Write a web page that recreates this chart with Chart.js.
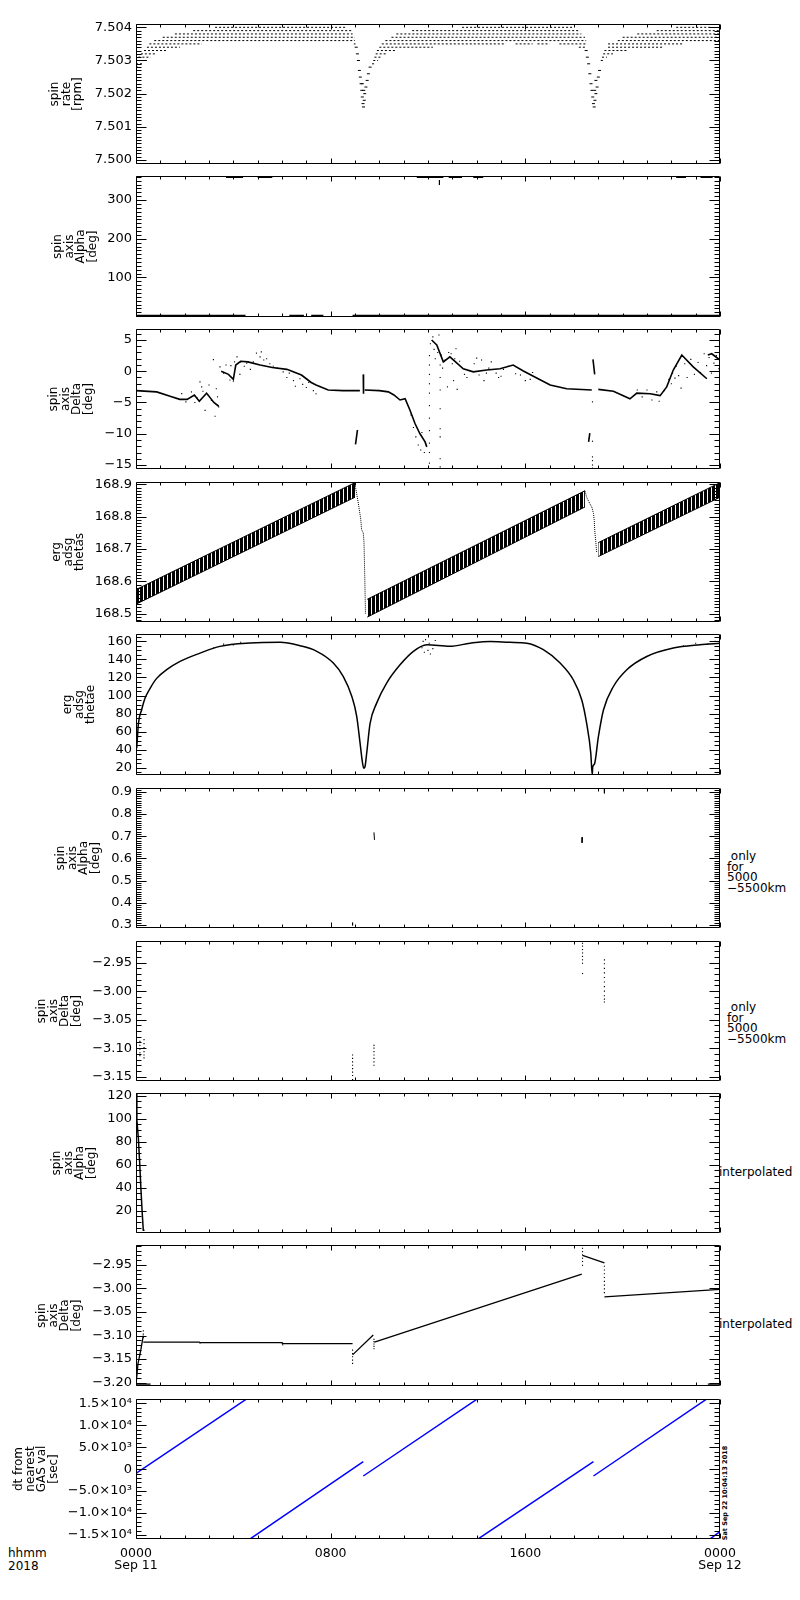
<!DOCTYPE html>
<html>
<head>
<meta charset="utf-8">
<script src="https://cdn.jsdelivr.net/npm/chart.js@4.4.0/dist/chart.umd.min.js"></script>
<style>
  body { margin: 0; background: #fff; width: 800px; height: 1600px; position: relative; overflow: hidden;
         font-family: "DejaVu Sans", "Liberation Sans", sans-serif; color: #000; }
  canvas { position: absolute; left: 0; }
  .note { position: absolute; font-size: 12px; line-height: 10.7px; white-space: pre; }
  .stamp { position: absolute; font-size: 6.5px; font-weight: bold; white-space: nowrap;
           transform: translate(-50%, -50%) rotate(-90deg); }
</style>
</head>
<body>
<div class="note" style="left:727px;top:851px"> only
for
5000
−5500km</div>
<div class="note" style="left:727px;top:1002px"> only
for
5000
−5500km</div>
<div class="note" style="left:719px;top:1166px;line-height:12px">interpolated</div>
<div class="note" style="left:719px;top:1318px;line-height:12px">interpolated</div>
<div class="note" style="left:8px;top:1547px;line-height:12.5px">hhmm
2018</div>
<div class="stamp" style="left:725px;top:1493px">Sat Sep 22 10:04:13 2018</div>

<script>
// time axis (hours from 0000 Sep 11)
const hourTicks = [0, 8, 16, 24];
const hourLabels = [['0000', 'Sep 11'], '0800', '1600', ['0000', 'Sep 12']];

// spin rate [rpm] : quantised levels drawn as [from h, to h, value]
const rateTicks = [7.500, 7.501, 7.502, 7.503, 7.504];
const rateTickLabels = ['7.500', '7.501', '7.502', '7.503', '7.504'];
const rateLevels = [
  [3.25, 8.65, 7.5040], [13.4, 18.0, 7.5040], [22.2, 23.6, 7.5040],
  [2.35, 8.9, 7.5039], [11.35, 18.25, 7.5039], [21.4, 24, 7.5039],
  [1.6, 8.9, 7.5038], [10.7, 18.3, 7.5038], [20.6, 24, 7.5038],
  [1.1, 9.0, 7.5037], [10.5, 18.45, 7.5037], [20.0, 24, 7.5037],
  [0.75, 9.0, 7.5036], [10.25, 18.5, 7.5036], [19.8, 24, 7.5036],
  [0.55, 2.7, 7.5035], [8.95, 9.02, 7.5035], [10.1, 15.2, 7.5035], [15.6, 16.3, 7.5035],
  [16.5, 17.0, 7.5035], [17.4, 18.5, 7.5035], [19.4, 22.5, 7.5035],
  [0.45, 1.8, 7.5034], [10.0, 12.2, 7.5034], [18.2, 18.5, 7.5034], [19.4, 21.7, 7.5034],
  [0.33, 1.27, 7.5033], [9.9, 10.7, 7.5033], [19.25, 20.2, 7.5033],
  [0.2, 0.85, 7.5032], [9.85, 10.3, 7.5032], [19.2, 19.6, 7.5032],
  [0.1, 0.6, 7.5031], [9.8, 10.1, 7.5031], [19.15, 19.35, 7.5031],
  [0.05, 0.45, 7.5030], [9.75, 9.95, 7.5030], [19.1, 19.25, 7.5030],
  [0, 0.3, 7.5029], [9.7, 9.85, 7.5029],
  [0, 0.15, 7.5028]
];
const rateDip = [
  [9.05, 7.5034], [9.1, 7.5032], [9.14, 7.5030], [9.18, 7.5027], [9.22, 7.5025], [9.25, 7.5023],
  [9.28, 7.5021], [9.3, 7.5019], [9.33, 7.5017], [9.35, 7.5016], [9.38, 7.5018], [9.4, 7.5020],
  [9.45, 7.5022], [9.5, 7.5024], [9.55, 7.5026], [9.62, 7.5028], [9.3, 7.5023], [9.36, 7.5021],
  [18.5, 7.5033], [18.55, 7.5031], [18.6, 7.5029], [18.65, 7.5026], [18.7, 7.5023], [18.74, 7.5021],
  [18.77, 7.5019], [18.8, 7.5017], [18.83, 7.5016], [18.86, 7.5018], [18.9, 7.5020], [18.95, 7.5022],
  [19.0, 7.5025], [19.05, 7.5027], [18.85, 7.5021], [18.9, 7.5024]
];

// spin axis Alpha [deg]
const alphaTicks = [100, 200, 300];
const alphaTickLabels = ['100', '200', '300'];
const alphaLow = [[0, 4.5, 1], [6.3, 6.9, 1], [7.2, 7.7, 1], [8.9, 24, 1]];
const alphaHigh = [[3.7, 4.4, 359.5], [5.0, 5.6, 359.5], [11.54, 12.63, 359.5], [12.85, 13.4, 359.5],
                   [13.86, 14.27, 359.5], [22.2, 22.6, 359.5], [23.2, 23.7, 359.5]];
const alphaDrip = [[12.47, 351.5], [12.47, 338.7]];

// spin axis Delta [deg]
const deltaTicks = [-15, -10, -5, 0, 5];
const deltaTickLabels = ['−15', '−10', '−5', '0', '5'];
const deltaPaths = [
  [[0, -3.1], [0.85, -3.3], [1.4, -4.0], [1.8, -4.5], [2.1, -4.5], [2.4, -3.8], [2.6, -4.8], [2.9, -3.5], [3.2, -5.0], [3.4, -5.6]],
  [[3.5, 0.0], [3.8, -0.5], [4.0, -1.3], [4.1, 1.0], [4.3, 1.6], [4.6, 1.5], [5.1, 1.0], [5.6, 0.6], [6.2, 0.3],
   [6.8, -0.6], [7.2, -1.8], [7.4, -2.2], [7.9, -3.0], [8.5, -3.1], [9.2, -3.1]],
  [[9.02, -11.7], [9.07, -10.3], [9.1, -9.4]],
  [[9.34, -0.5], [9.34, -2.2], [9.36, -3.6]],
  [[9.4, -3.0], [10.0, -3.1], [10.37, -3.3], [10.6, -3.8], [10.85, -4.6], [11.06, -4.4], [11.26, -6.25],
   [11.47, -8.4], [11.67, -10.0], [11.88, -11.3], [11.95, -12.1]],
  [[12.15, 5.0], [12.36, 4.2], [12.63, 1.5], [12.9, 2.3], [13.45, 0.4], [13.86, -0.1], [14.41, 0.2], [14.96, 0.4],
   [15.5, 1.0], [15.92, 0.05], [16.33, -0.8], [17.02, -2.2], [17.7, -2.8], [18.73, -3.0]],
  [[18.78, 1.9], [18.85, -0.5]],
  [[18.6, -11.3], [18.65, -9.9]],
  [[19.0, -2.9], [19.62, -3.2], [20.3, -4.4], [20.58, -3.5], [21.13, -3.6], [21.54, -3.9], [21.81, -2.5],
   [22.08, 0.2], [22.43, 2.6], [22.9, 0.7], [23.46, -1.2]],
  [[23.5, 2.6], [23.66, 2.8], [24, 1.8]]
];
const deltaScatter = [
  [1.88, -3.58], [2.05, -4.9], [2.28, -3.31], [2.42, -5.0], [2.5, -4.2], [2.63, -1.71], [2.7, -2.5], [2.75, -3.2],
  [2.84, -6.25], [2.97, -3.85], [3.1, -4.65], [3.18, 1.87], [3.25, -7.2], [3.35, -4.1], [3.4, -5.7], [3.3, -2.8], [3.0, -2.2],
  [3.45, 0.7], [3.6, -0.3], [3.7, 1.0], [3.86, -1.4], [3.9, 0.9], [4.0, -1.6], [4.05, 1.5], [4.15, 2.3], [4.27, -0.5],
  [4.3, 1.5], [4.45, 0.8], [4.55, 1.3], [4.7, 0.3], [4.82, 1.5], [4.95, 2.9], [5.1, 2.3], [5.15, 3.1], [5.25, 1.8],
  [5.37, 2.0], [5.5, 1.2], [5.64, 0.8], [5.8, 0.5], [6.05, -0.1], [6.2, -1.0], [6.3, -0.3], [6.47, -1.5], [6.55, -2.4],
  [6.74, -1.2], [6.85, -2.1], [7.0, -2.6], [7.1, -1.8], [7.29, -3.1], [7.4, -3.6],
  [11.3, -7.0], [11.4, -9.0], [11.5, -10.5], [11.6, -11.8], [11.7, -12.6], [11.75, -9.8], [11.85, -13.0],
  [12.06, -14.7], [12.06, -13.0], [12.06, -11.5], [12.06, -9.5], [12.06, -7.5], [12.06, -5.5], [12.06, -3.5],
  [12.06, -2.0], [12.06, -0.5], [12.06, 1.0], [12.06, 2.5],
  [12.5, -15.3], [12.5, -14.0], [12.5, -10.5], [12.5, -9.2], [12.5, -6.0], [12.5, -3.0], [12.5, -1.0], [12.5, 1.0],
  [12.1, 4.4], [12.2, 5.5], [12.25, 3.5], [12.3, 2.0], [12.4, 3.0], [12.45, 5.8], [12.55, 2.6], [12.6, 0.5],
  [12.7, 1.8], [12.8, -2.5], [12.85, 3.0], [12.95, 2.8], [13.0, 1.2], [13.05, -1.5], [13.1, 2.0], [13.15, 3.6],
  [13.2, -2.9], [13.3, 1.6], [13.5, -0.5], [13.6, -1.0],
  [13.9, 1.2], [14.0, 2.1], [14.1, -0.6], [14.2, 1.8], [14.3, -1.5], [14.4, -0.3], [14.5, 0.5], [14.6, 1.5],
  [14.8, -0.3], [14.9, -1.0], [15.0, -0.8], [15.1, 0.3], [15.3, 0.8], [15.6, -0.4], [15.8, -0.6], [16.0, -1.5],
  [16.2, -1.3], [16.3, -0.2],
  [18.76, -4.9], [18.76, -11.2], [18.76, -13.7], [18.76, -14.3], [18.76, -15.0], [18.76, -15.5],
  [20.6, -3.0], [20.8, -4.1], [21.0, -3.0], [21.2, -4.6], [21.4, -3.3], [21.5, -4.8], [21.7, -3.1], [21.9, -1.3],
  [22.0, -2.0], [22.05, -0.3], [22.15, -1.1], [22.2, 0.8], [22.3, -0.7], [22.4, -2.7], [22.55, 1.2], [22.65, -1.0],
  [22.8, 1.9], [22.95, -0.5], [23.1, 1.4], [23.2, -0.2], [23.35, 2.8], [23.45, 0.9], [23.55, 2.2], [23.65, -0.3],
  [23.75, 1.3], [23.85, 2.5], [23.95, 0.4]
];

// erg adsg thetas : band edges and drops
const thetasTicks = [168.5, 168.6, 168.7, 168.8, 168.9];
const thetasTickLabels = ['168.5', '168.6', '168.7', '168.8', '168.9'];
const thetasUpper1 = [[0, 168.575], [9.0, 168.905]];
const thetasLower1 = [[0, 168.53], [9.0, 168.86]];
const thetasUpper2 = [[9.5, 168.545], [18.45, 168.88]];
const thetasLower2 = [[9.5, 168.49], [18.45, 168.83]];
const thetasUpper3 = [[19.0, 168.72], [24, 168.905]];
const thetasLower3 = [[19.0, 168.677], [24, 168.86]];
const thetasDrops = [
  [[9.0, 168.90], [9.14, 168.84], [9.24, 168.79], [9.27, 168.76], [9.34, 168.75], [9.37, 168.72], [9.4, 168.62], [9.43, 168.5]],
  [[18.45, 168.88], [18.52, 168.86], [18.65, 168.84], [18.73, 168.83], [18.8, 168.81], [18.83, 168.79], [18.86, 168.75], [18.9, 168.72], [18.93, 168.69]]
];

// erg adsg thetae
const thetaeTicks = [20, 40, 60, 80, 100, 120, 140, 160];
const thetaeTickLabels = ['20', '40', '60', '80', '100', '120', '140', '160'];
const thetaeCurve = [
  [0.03, 41.5], [0.1, 69], [0.23, 84], [0.37, 97], [0.58, 108], [0.85, 119], [1.26, 128.6], [1.81, 137.8],
  [2.63, 147], [3.45, 154.5], [4.69, 158.2], [5.92, 159], [6.74, 155.2], [7.43, 149], [8.11, 136], [8.52, 121],
  [8.87, 99], [9.07, 77], [9.21, 47], [9.3, 27], [9.36, 19.5], [9.41, 21], [9.48, 36], [9.62, 69], [9.89, 91.6],
  [10.3, 113.8], [10.85, 134], [11.4, 149], [11.95, 156.3], [12.9, 154.5], [13.73, 158], [14.55, 160], [15.37, 159],
  [16.06, 158], [16.74, 150.8], [17.43, 136], [17.97, 117.5], [18.32, 95], [18.52, 69], [18.69, 36], [18.75, 12],
  [18.77, 21], [18.84, 24], [19.0, 54], [19.21, 84], [19.62, 110], [20.17, 128.6], [20.99, 143.3], [22.08, 152.6],
  [23.18, 156.3], [24, 158]
];
const thetaeScatter = [
  [3.2, 153], [3.6, 157], [4.0, 156], [4.3, 159], [11.75, 153], [11.8, 160], [11.85, 148], [11.9, 162], [12.0, 150],
  [12.05, 158], [12.1, 146], [12.2, 152], [12.3, 161], [22.5, 155], [23.0, 158], [23.5, 157], [23.8, 160], [24, 156]
];

// spin axis Alpha, only for 5000-5500 km
const alphaOnlyTicks = [0.3, 0.4, 0.5, 0.6, 0.7, 0.8, 0.9];
const alphaOnlyTickLabels = ['0.3', '0.4', '0.5', '0.6', '0.7', '0.8', '0.9'];
const alphaOnlyMarks = [
  [[8.9, 0.31], [8.9, 0.298]], [[9.78, 0.717], [9.8, 0.683]], [[18.35, 0.695], [18.33, 0.67]], [[19.25, 0.917], [19.25, 0.893]]
];

// spin axis Delta, only for 5000-5500 km
const deltaOnlyTicks = [-3.15, -3.10, -3.05, -3.00, -2.95];
const deltaOnlyTickLabels = ['−3.15', '−3.10', '−3.05', '−3.00', '−2.95'];
const deltaOnlyDots = [
  [0.16, -3.088], [0.16, -3.095], [0.16, -3.102], [0.16, -3.108], [0.16, -3.113],
  [0.33, -3.085], [0.33, -3.092], [0.33, -3.099], [0.33, -3.106], [0.33, -3.112], [0.33, -3.117],
  [8.9, -3.112], [8.9, -3.118], [8.9, -3.124], [8.9, -3.130], [8.9, -3.136], [8.9, -3.142], [8.9, -3.148], [8.9, -3.155],
  [9.78, -3.095], [9.78, -3.100], [9.78, -3.106], [9.78, -3.112], [9.78, -3.118], [9.78, -3.124], [9.78, -3.130],
  [18.35, -2.916], [18.35, -2.921], [18.35, -2.927], [18.35, -2.933], [18.35, -2.939], [18.35, -2.945], [18.35, -2.951], [18.35, -2.969],
  [19.25, -2.945], [19.25, -2.952], [19.25, -2.960], [19.25, -2.968], [19.25, -2.976], [19.25, -2.984], [19.25, -2.992],
  [19.25, -3.000], [19.25, -3.008], [19.25, -3.014], [19.25, -3.019]
];

// spin axis Alpha, interpolated
const alphaInterpTicks = [20, 40, 60, 80, 100, 120];
const alphaInterpTickLabels = ['20', '40', '60', '80', '100', '120'];
const alphaInterpCurve = [[0.02, 122], [0.03, 117], [0.04, 99], [0.1, 82], [0.15, 62], [0.2, 40], [0.25, 20], [0.3, 3], [0.35, 3]];

// spin axis Delta, interpolated
const deltaInterpTicks = [-3.20, -3.15, -3.10, -3.05, -3.00, -2.95];
const deltaInterpTickLabels = ['−3.20', '−3.15', '−3.10', '−3.05', '−3.00', '−2.95'];
const deltaInterpPaths = [
  [[0.0, -3.205], [0.08, -3.16], [0.2, -3.13], [0.3, -3.10]],
  [[0.3, -3.114], [2.6, -3.114], [2.62, -3.115], [6.0, -3.115], [6.02, -3.117], [8.9, -3.117]],
  [[8.9, -3.141], [9.75, -3.099]],
  [[9.8, -3.114], [18.32, -2.970]],
  [[18.35, -2.930], [19.25, -2.946]],
  [[19.25, -3.018], [24, -3.002]],
  [[0, -3.203], [0.6, -3.203]],
  [[23.5, -3.203], [24, -3.203]]
];
const deltaInterpDots = [
  [0.3, -3.090], [0.3, -3.097], [0.3, -3.104],
  [8.9, -3.131], [8.9, -3.138], [8.9, -3.145], [8.9, -3.152], [8.9, -3.159],
  [9.78, -3.108], [9.78, -3.113], [9.78, -3.118], [9.78, -3.123], [9.78, -3.128],
  [18.35, -2.915], [18.35, -2.922], [18.35, -2.929], [18.35, -2.936], [18.35, -2.943], [18.35, -2.951],
  [19.25, -2.953], [19.25, -2.961], [19.25, -2.969], [19.25, -2.977], [19.25, -2.985], [19.25, -2.993],
  [19.25, -3.001], [19.25, -3.009]
];

// dt from nearest GAS val [sec]
const dtTicks = [-15000, -10000, -5000, 0, 5000, 10000, 15000];
const dtTickLabels = ['−1.5×10⁴', '−1.0×10⁴', '−5.0×10³', '0', '5.0×10³', '1.0×10⁴', '1.5×10⁴'];
const dtPaths = [
  [[0, -945], [4.55, 16000]],
  [[4.66, -16000], [9.34, 1700]],
  [[9.34, -1560], [14.03, 16000]],
  [[14.03, -16000], [18.8, 1700]],
  [[18.8, -1560], [23.46, 16000]],
  [[23.57, -16000], [24, -14200]]
];

// ---- helpers ----
const pts = a => a.map(([x, y]) => ({x, y}));
const levels = a => a.flatMap(([x0, x1, y]) => [{x: x0, y}, {x: x1, y}, {x: x1, y: null}]);
const paths = a => a.flatMap(s => [...pts(s), {x: s[s.length - 1][0], y: null}]);
const line = (data, extra) => Object.assign({data, borderColor: '#000', borderWidth: 1, pointRadius: 0,
  fill: false, tension: 0, spanGaps: false}, extra);
const dots = (data, extra) => Object.assign({data, showLine: false, pointRadius: 0.8, pointStyle: 'rect',
  backgroundColor: '#000', borderColor: '#000', borderWidth: 0}, extra);

// vertical hatch used for the thetas band
function stripes(ctx) {
  const c = document.createElement('canvas');
  c.width = 4; c.height = 4;
  const g = c.getContext('2d');
  g.fillStyle = '#000';
  g.fillRect(0, 0, 3, 4);
  return ctx.createPattern(c, 'repeat');
}

// frame with inward ticks on all four sides (IDL look)
const frame = {
  id: 'frame',
  afterDraw(chart, args, opts) {
    const {ctx, chartArea: a, scales: {x, y}} = chart;
    const L = Math.round(a.left) + 0.5, R = Math.round(a.right) - 0.5;
    const T = Math.round(a.top) + 0.5, B = Math.round(a.bottom) - 0.5;
    ctx.save();
    ctx.strokeStyle = '#000';
    ctx.lineWidth = 1;
    ctx.beginPath();
    ctx.rect(L, T, R - L, B - T);
    for (let hr = 0; hr <= 24; hr++) {
      const px = Math.round(x.getPixelForValue(hr)) + 0.5;
      const len = hr % 8 === 0 ? 5 : 3;
      ctx.moveTo(px, T); ctx.lineTo(px, T + len);
      ctx.moveTo(px, B); ctx.lineTo(px, B - len);
    }
    const tick = (v, len) => {
      const py = Math.round(y.getPixelForValue(v)) + 0.5;
      ctx.moveTo(L, py); ctx.lineTo(L + len, py);
      ctx.moveTo(R, py); ctx.lineTo(R - len, py);
    };
    const k0 = Math.ceil(y.min / opts.minor - 1e-6), k1 = Math.floor(y.max / opts.minor + 1e-6);
    for (let k = k0; k <= k1; k++) tick(k * opts.minor, 5);
    y.ticks.forEach(t => tick(t.value, 10));
    ctx.stroke();
    ctx.restore();
  }
};

const panels = [
  {top: 24, bottom: 164, min: 7.49988, max: 7.50410, ticks: rateTicks, labels: rateTickLabels, minor: 0.0001,
   title: ['spin', 'rate', '[rpm]'], titleX: 55,
   sets: () => [line(levels(rateLevels), {borderDash: [2, 2]}),
                dots(pts(rateDip), {pointStyle: 'line', pointRadius: 1.5, borderWidth: 1})]},
  {top: 176, bottom: 317, min: -2, max: 362, ticks: alphaTicks, labels: alphaTickLabels, minor: 10,
   title: ['spin', 'axis', 'Alpha', '[deg]'], titleX: 58,
   sets: () => [line(levels(alphaLow), {borderWidth: 2}), line(levels(alphaHigh), {borderWidth: 2}),
                line(pts(alphaDrip))]},
  {top: 329, bottom: 469, min: -15.64, max: 6.76, ticks: deltaTicks, labels: deltaTickLabels, minor: 1,
   title: ['spin', 'axis', 'Delta', '[deg]'], titleX: 54,
   sets: () => [line(paths(deltaPaths), {borderWidth: 1.6}), dots(pts(deltaScatter))]},
  {top: 482, bottom: 622, min: 168.475, max: 168.907, ticks: thetasTicks, labels: thetasTickLabels, minor: 0.01,
   title: ['erg', 'adsg', 'thetas'], titleX: 57,
   sets: pat => [
     line(pts(thetasUpper1), {fill: '+1', backgroundColor: pat}), line(pts(thetasLower1)),
     line(pts(thetasUpper2), {fill: '+1', backgroundColor: pat}), line(pts(thetasLower2)),
     line(pts(thetasUpper3), {fill: '+1', backgroundColor: pat}), line(pts(thetasLower3)),
     line(paths(thetasDrops), {borderDash: [1, 1]})]},
  {top: 634, bottom: 775, min: 11.9, max: 168.2, ticks: thetaeTicks, labels: thetaeTickLabels, minor: 5,
   title: ['erg', 'adsg', 'thetae'], titleX: 68,
   sets: () => [line(pts(thetaeCurve), {borderWidth: 1.5, cubicInterpolationMode: 'monotone'}),
                dots(pts(thetaeScatter))]},
  {top: 788, bottom: 928, min: 0.286, max: 0.917, ticks: alphaOnlyTicks, labels: alphaOnlyTickLabels, minor: 0.01,
   title: ['spin', 'axis', 'Alpha', '[deg]'], titleX: 61,
   sets: () => [line(paths(alphaOnlyMarks))]},
  {top: 941, bottom: 1081, min: -3.1576, max: -2.912, ticks: deltaOnlyTicks, labels: deltaOnlyTickLabels, minor: 0.01,
   title: ['spin', 'axis', 'Delta', '[deg]'], titleX: 42,
   sets: () => [dots(pts(deltaOnlyDots))]},
  {top: 1093, bottom: 1233, min: 0.6, max: 122.3, ticks: alphaInterpTicks, labels: alphaInterpTickLabels, minor: 5,
   title: ['spin', 'axis', 'Alpha', '[deg]'], titleX: 57,
   sets: () => [line(pts(alphaInterpCurve), {borderWidth: 1.5})]},
  {top: 1245, bottom: 1386, min: -3.207, max: -2.908, ticks: deltaInterpTicks, labels: deltaInterpTickLabels, minor: 0.01,
   title: ['spin', 'axis', 'Delta', '[deg]'], titleX: 42,
   sets: () => [line(paths(deltaInterpPaths), {borderWidth: 1.3}), dots(pts(deltaInterpDots))]},
  {top: 1399, bottom: 1539, min: -15910, max: 15980, ticks: dtTicks, labels: dtTickLabels, minor: 1000,
   title: ['dt from', 'nearest', 'GAS val', '[sec]'], titleX: 19,
   sets: () => [line(paths(dtPaths), {borderColor: '#0000ff', borderWidth: 1.5})]}
];

const FONT = '"DejaVu Sans", "Liberation Sans", sans-serif';
const PAD = 12, XAXIS = 45;

panels.forEach((p, i) => {
  const last = i === panels.length - 1;
  const h = p.bottom - p.top + PAD + (last ? XAXIS : PAD);
  const cv = document.createElement('canvas');
  cv.width = 800; cv.height = h;
  cv.style.top = (p.top - PAD) + 'px';
  cv.style.width = '800px'; cv.style.height = h + 'px';
  document.body.appendChild(cv);
  const pat = stripes(cv.getContext('2d'));

  new Chart(cv, {
    type: 'line',
    data: {datasets: p.sets(pat)},
    options: {
      responsive: false,
      animation: false,
      events: [],
      layout: {padding: {left: 0, right: 80, top: PAD, bottom: last ? 0 : PAD}},
      plugins: {legend: {display: false}, tooltip: {enabled: false}, frame: {minor: p.minor}},
      scales: {
        x: {
          type: 'linear', min: 0, max: 24, display: last,
          grid: {display: false, drawTicks: false}, border: {display: false},
          afterBuildTicks: s => { s.ticks = hourTicks.map(v => ({value: v})); },
          afterFit: s => { s.height = last ? XAXIS : 0; },
          ticks: {autoSkip: false, maxRotation: 0, padding: 8, color: '#000',
                  font: {family: FONT, size: 12.5, lineHeight: 1.0},
                  callback: (v, k) => hourLabels[k]}
        },
        y: {
          type: 'linear', min: p.min, max: p.max,
          grid: {display: false, drawTicks: false}, border: {display: false},
          afterBuildTicks: s => { s.ticks = p.ticks.map(v => ({value: v})); },
          afterFit: s => { s.width = 136; },
          ticks: {autoSkip: false, padding: 4, color: '#000',
                  font: {family: FONT, size: 13},
                  callback: (v, k) => p.labels[k]},
          title: {display: true, text: p.title, color: '#000',
                  font: {family: FONT, size: 12, lineHeight: 0.97},
                  padding: {top: p.titleX - 6, bottom: 0}}
        }
      }
    },
    plugins: [frame]
  });
});
</script>
</body>
</html>
